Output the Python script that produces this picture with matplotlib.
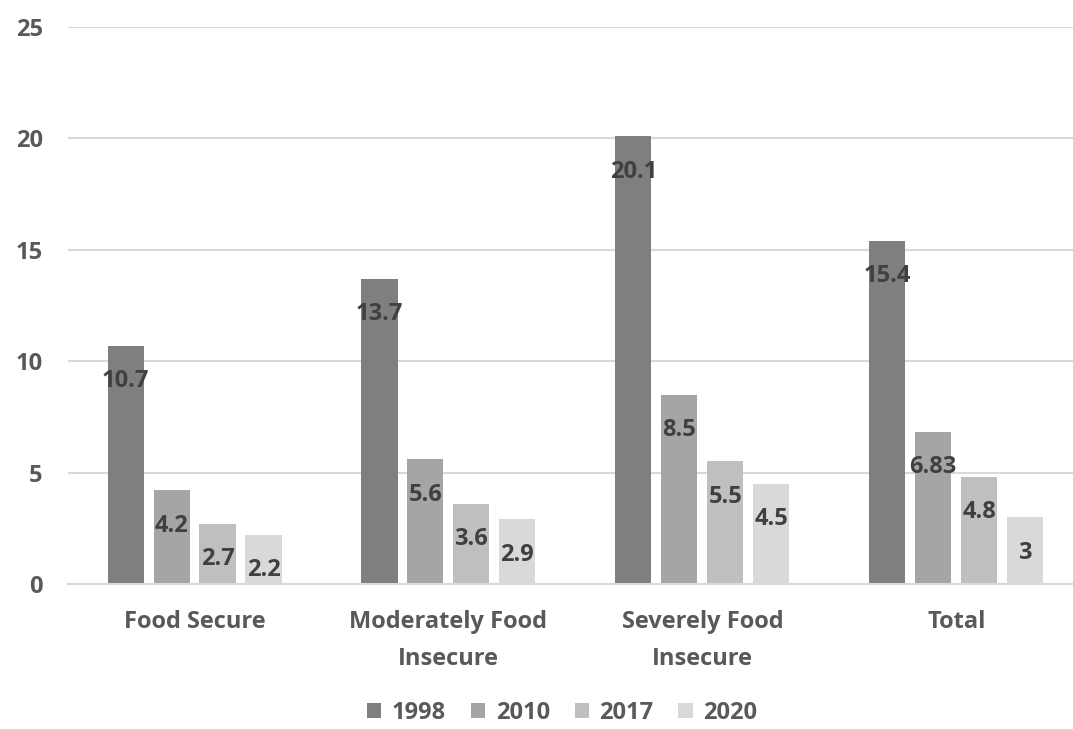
import matplotlib.pyplot as plt
import numpy as np

plt.rcParams['font.family'] = ['Open Sans', 'DejaVu Sans']
plt.rcParams['font.weight'] = 'bold'

categories = ['Food Secure', 'Moderately Food\nInsecure', 'Severely Food\nInsecure', 'Total']
years = ['1998', '2010', '2017', '2020']
vals_1998 = [10.7, 13.7, 20.1, 15.4]
vals_2010 = [4.2, 5.6, 8.5, 6.83]
vals_2017 = [2.7, 3.6, 5.5, 4.8]
vals_2020 = [2.2, 2.9, 4.5, 3]
label_1998 = ['10.7', '13.7', '20.1', '15.4']
label_2010 = ['4.2', '5.6', '8.5', '6.83']
label_2017 = ['2.7', '3.6', '5.5', '4.8']
label_2020 = ['2.2', '2.9', '4.5', '3']

series = [vals_1998, vals_2010, vals_2017, vals_2020]
labels = [label_1998, label_2010, label_2017, label_2020]
colors = ['#7f7f7f', '#a5a5a5', '#bfbfbf', '#d9d9d9']
txt = '#404040'
tick_c = '#595959'
fs = 17

fig = plt.figure(figsize=(10.73, 7.29), dpi=100)
ax = fig.add_axes([0.063, 0.199, 0.937, 0.764])

x = np.arange(len(categories))
pitch = 0.181
width = 0.142
for i, (vals, labs) in enumerate(zip(series, labels)):
    pos = x + (i - 1.5) * pitch
    bars = ax.bar(pos, vals, width, color=colors[i], label=years[i], zorder=2)
    for b, lab in zip(bars, labs):
        ax.annotate(lab, (b.get_x() + b.get_width() / 2, b.get_height()),
                    xytext=(0, -25.5), textcoords='offset points',
                    ha='center', va='center', fontsize=fs, color=txt,
                    fontweight='bold', zorder=3)

ax.set_ylim(0, 25)
ax.set_xlim(-0.5, 3.46)
ax.set_yticks(range(0, 26, 5))
ax.yaxis.grid(True, color='#d9d9d9', linewidth=1.5, zorder=0)
for s in ['top', 'right', 'left']:
    ax.spines[s].set_visible(False)
ax.spines['bottom'].set_color('#d9d9d9')
ax.spines['bottom'].set_linewidth(1.5)
ax.tick_params(axis='both', length=0, labelsize=fs, labelcolor=tick_c)
ax.tick_params(axis='x', pad=19)
ax.tick_params(axis='y', pad=18)
ax.set_xticks(x)
ax.set_xticklabels(categories, linespacing=1.68)
for t in ax.get_xticklabels() + ax.get_yticklabels():
    t.set_fontweight('bold')

leg = fig.legend(loc='lower center', ncol=4, frameon=False, fontsize=fs,
                 bbox_to_anchor=(0.524, -0.024), handlelength=0.6, handleheight=0.6,
                 handletextpad=0.45, columnspacing=1.05)
for t in leg.get_texts():
    t.set_color(tick_c)

fig.savefig('out.png', dpi=100)
